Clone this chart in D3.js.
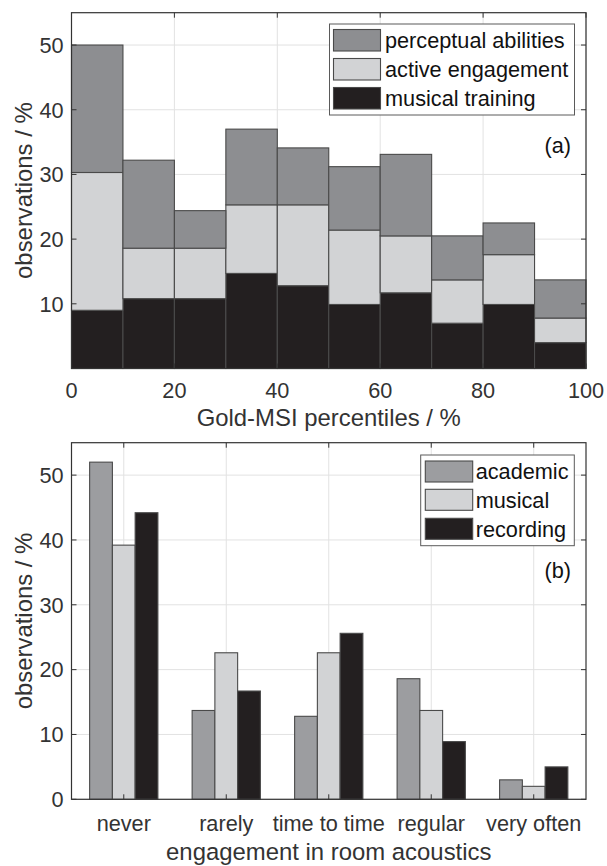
<!DOCTYPE html>
<html><head><meta charset="utf-8">
<script src="https://cdn.jsdelivr.net/npm/d3@7"></script>
<style>
body{margin:0;background:#fff;}
svg{display:block;font-family:"Liberation Sans",Arial,Helvetica,sans-serif;}
</style></head>
<body>
<svg id="chart" width="607" height="866"></svg>
<script>
// ---- Panel (a) data: stacked segments per 10-percentile bin ----
const binEdges = [0,10,20,30,40,50,60,70,80,90,100];
const musicalTraining     = [9.0,10.8,10.8,14.7,12.8, 9.9,11.7, 7.0, 9.9, 4.0];
const activeEngagement    = [21.3, 7.8, 7.8,10.6,12.5,11.5, 8.8, 6.7, 7.7, 3.8];
const perceptualAbilities = [19.7,13.6, 5.8,11.7, 8.8, 9.8,12.6, 6.8, 4.9, 5.9];
const seriesA = ["musical training","active engagement","perceptual abilities"];
const legendA = ["perceptual abilities","active engagement","musical training"];
const xTicksA = [0,20,40,60,80,100];
const yTicksA = [10,20,30,40,50];

// ---- Panel (b) data ----
const categoriesB = ["never","rarely","time to time","regular","very often"];
const academic  = [52.0,13.7,12.8,18.6,3.0];
const musical   = [39.2,22.6,22.6,13.7,2.0];
const recording = [44.2,16.7,25.6, 8.9,5.0];
const seriesB = ["academic","musical","recording"];
const yTicksB = [0,10,20,30,40,50];

const colA = {"perceptual abilities":"#8d8e91","active engagement":"#d2d3d5","musical training":"#231f20"};
const colB = {"academic":"#9c9da0","musical":"#d2d3d5","recording":"#231f20"};
const edge = "#4a4a4a", gridC = "#e2e2e2", axC = "#333333", txtC = "#333333";
const FS = 21.7, LFS = 23.9;

const svg = d3.select("#chart");

function frame(g, x0, x1, y0, y1, xScale, yScale, xTickVals, yTickVals) {
  // grid
  g.append("g").selectAll("line.gx").data(xTickVals).join("line")
    .attr("x1", d=>xScale(d)).attr("x2", d=>xScale(d)).attr("y1", y0).attr("y2", y1)
    .attr("stroke", gridC).attr("stroke-width", 1);
  g.append("g").selectAll("line.gy").data(yTickVals).join("line")
    .attr("y1", d=>yScale(d)).attr("y2", d=>yScale(d)).attr("x1", x0).attr("x2", x1)
    .attr("stroke", gridC).attr("stroke-width", 1);
}
function box(g, x0, x1, y0, y1, xScale, yScale, xTickVals, yTickVals) {
  const tl = 5;
  const t = g.append("g").attr("stroke", axC).attr("stroke-width", 1);
  xTickVals.forEach(d=>{
    t.append("line").attr("x1",xScale(d)).attr("x2",xScale(d)).attr("y1",y1).attr("y2",y1-tl);
    t.append("line").attr("x1",xScale(d)).attr("x2",xScale(d)).attr("y1",y0).attr("y2",y0+tl);
  });
  yTickVals.forEach(d=>{
    t.append("line").attr("y1",yScale(d)).attr("y2",yScale(d)).attr("x1",x0).attr("x2",x0+tl);
    t.append("line").attr("y1",yScale(d)).attr("y2",yScale(d)).attr("x1",x1).attr("x2",x1-tl);
  });
  g.append("rect").attr("x",x0).attr("y",y0).attr("width",x1-x0).attr("height",y1-y0)
    .attr("fill","none").attr("stroke",axC).attr("stroke-width",1.2);
}

// ================= Panel (a) =================
const L = 71.5, R = 586, TA = 12.7, BA = 368.5;
const xA = d3.scaleLinear().domain([0,100]).range([L,R]);
const yA = d3.scaleLinear().domain([0,55]).range([BA,TA]);
const gA = svg.append("g");
frame(gA, L, R, TA, BA, xA, yA, xTicksA, yTicksA);

const rowsA = musicalTraining.map((v,i)=>({
  x0: binEdges[i], x1: binEdges[i+1],
  "musical training": v, "active engagement": activeEngagement[i], "perceptual abilities": perceptualAbilities[i]
}));
const stackA = d3.stack().keys(seriesA)(rowsA);
stackA.forEach(layer=>{
  gA.append("g").selectAll("rect").data(layer).join("rect")
    .attr("x", d=>xA(d.data.x0)).attr("width", d=>xA(d.data.x1)-xA(d.data.x0))
    .attr("y", d=>yA(d[1])).attr("height", d=>yA(d[0])-yA(d[1]))
    .attr("fill", colA[layer.key]).attr("stroke", edge).attr("stroke-width", 1.1);
});
box(gA, L, R, TA, BA, xA, yA, xTicksA, yTicksA);

// ticks labels
gA.append("g").selectAll("text").data(xTicksA).join("text")
  .attr("x", d=>xA(d)).attr("y", 397.5).attr("text-anchor","middle")
  .attr("font-size", FS).attr("fill", txtC).text(d=>d);
gA.append("g").selectAll("text").data(yTicksA).join("text")
  .attr("x", L-8).attr("y", d=>yA(d)).attr("dy","0.36em").attr("text-anchor","end")
  .attr("font-size", FS).attr("fill", txtC).text(d=>d);
gA.append("text").attr("x", (L+R)/2).attr("y", 426).attr("text-anchor","middle")
  .attr("font-size", LFS).attr("fill", txtC).text("Gold-MSI percentiles / %");
gA.append("text").attr("transform", `translate(32,${(TA+BA)/2}) rotate(-90)`).attr("text-anchor","middle")
  .attr("font-size", LFS).attr("fill", txtC).text("observations / %");

// legend (a)
function legend(g, x0, y0, w, h, names, cols, swX, swW, rowsY, swH, textX) {
  g.append("rect").attr("x",x0).attr("y",y0).attr("width",w).attr("height",h)
    .attr("fill","#fff").attr("stroke","#5a5a5a").attr("stroke-width",1);
  names.forEach((n,i)=>{
    g.append("rect").attr("x",swX).attr("y",rowsY[i]).attr("width",swW).attr("height",swH)
      .attr("fill",cols[n]).attr("stroke",edge).attr("stroke-width",1.1);
    g.append("text").attr("x",textX).attr("y",rowsY[i]+swH/2).attr("dy","0.36em")
      .attr("font-size",FS).attr("fill","#111").text(n);
  });
}
legend(gA, 329.5, 24, 245, 91, legendA, colA, 333.5, 47, [29.5,58.5,87.5], 21.5, 385);
gA.append("text").attr("x", 571).attr("y", 153).attr("text-anchor","end")
  .attr("font-size", FS).attr("fill","#111").text("(a)");

// ================= Panel (b) =================
const TB = 442.7, BB = 799.3;
const xB = d3.scaleLinear().domain([0.49,5.51]).range([L,R]);
const yB = d3.scaleLinear().domain([0,55]).range([BB,TB]);
const xTicksB = categoriesB.map((c,i)=>i+1);
const gB = svg.append("g");
frame(gB, L, R, TB, BB, xB, yB, xTicksB, yTicksB);

const valsB = {"academic":academic, "musical":musical, "recording":recording};
const bw = 0.222;
seriesB.forEach((s,j)=>{
  gB.append("g").selectAll("rect").data(valsB[s]).join("rect")
    .attr("x", (d,i)=>xB(i+1+(j-1.5)*bw)).attr("width", xB(bw)-xB(0))
    .attr("y", d=>yB(d)).attr("height", d=>yB(0)-yB(d))
    .attr("fill", colB[s]).attr("stroke", edge).attr("stroke-width", 1.1);
});
box(gB, L, R, TB, BB, xB, yB, xTicksB, yTicksB);

gB.append("g").selectAll("text").data(categoriesB).join("text")
  .attr("x", (d,i)=>xB(i+1)).attr("y", 831).attr("text-anchor","middle")
  .attr("font-size", FS).attr("fill", txtC).text(d=>d);
gB.append("g").selectAll("text").data(yTicksB).join("text")
  .attr("x", L-8).attr("y", d=>yB(d)).attr("dy","0.36em").attr("text-anchor","end")
  .attr("font-size", FS).attr("fill", txtC).text(d=>d);
gB.append("text").attr("x", (L+R)/2).attr("y", 860).attr("text-anchor","middle")
  .attr("font-size", LFS).attr("fill", txtC).text("engagement in room acoustics");
gB.append("text").attr("transform", `translate(32,${(TB+BB)/2}) rotate(-90)`).attr("text-anchor","middle")
  .attr("font-size", LFS).attr("fill", txtC).text("observations / %");

legend(gB, 420.7, 455, 153.6, 90.7, seriesB, colB, 425.3, 47.4, [461,489.3,518.3], 21, 475.7);
gB.append("text").attr("x", 571).attr("y", 578).attr("text-anchor","end")
  .attr("font-size", FS).attr("fill","#111").text("(b)");
</script>
</body></html>
